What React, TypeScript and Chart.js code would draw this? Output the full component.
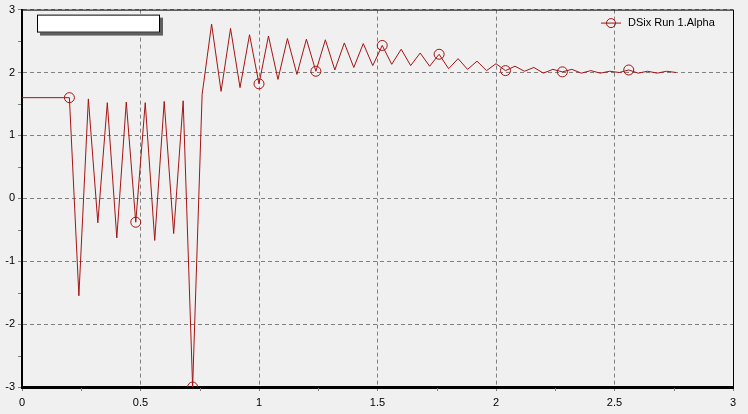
import React, { useEffect, useRef } from "react";
import { Chart, registerables } from "chart.js";

Chart.register(...registerables);

const seriesLabel = "DSix Run 1.Alpha";

const timeValues = [
  0, 0.2, 0.24, 0.28, 0.32, 0.36, 0.4, 0.44, 0.48, 0.52, 0.56, 0.6, 0.64, 0.68,
  0.72, 0.76, 0.8, 0.84, 0.88, 0.92, 0.96, 1.0, 1.04, 1.08, 1.12, 1.16, 1.2,
  1.24, 1.28, 1.32, 1.36, 1.4, 1.44, 1.48, 1.52, 1.56, 1.6, 1.64, 1.68, 1.72,
  1.76, 1.8, 1.84, 1.88, 1.92, 1.96, 2.0, 2.04, 2.08, 2.12, 2.16, 2.2, 2.24,
  2.28, 2.32, 2.36, 2.4, 2.44, 2.48, 2.52, 2.56, 2.6, 2.64, 2.68, 2.72, 2.76,
];

const alphaValues = [
  1.6, 1.6, -1.55, 1.58, -0.39, 1.52, -0.63, 1.53, -0.38, 1.52, -0.67, 1.54,
  -0.56, 1.55, -3.0, 1.65, 2.77, 1.7, 2.7, 1.76, 2.6, 1.82, 2.58, 1.89, 2.54,
  1.97, 2.53, 2.02, 2.52, 2.04, 2.47, 2.08, 2.46, 2.11, 2.43, 2.13, 2.37, 2.11,
  2.31, 2.1, 2.29, 2.06, 2.22, 2.05, 2.18, 2.03, 2.14, 2.03, 2.1, 2.02, 2.08,
  1.99, 2.05, 2.01, 2.05, 1.99, 2.03, 1.99, 2.02, 2.0, 2.04, 1.99, 2.02, 1.99,
  2.02, 2.0,
];

const markerTimes = [0.2, 0.48, 0.72, 1.0, 1.24, 1.52, 1.76, 2.04, 2.28, 2.56];

const xMinorTicks = [0.25, 0.75, 1.25, 1.75, 2.25, 2.75];
const yMinorTicks = [-2.5, -1.5, -0.5, 0.5, 1.5, 2.5];

const LINE_COLOR = "#a41414";
const FONT_FAMILY = "'Liberation Sans', Arial, sans-serif";

export default function App() {
  const canvasRef = useRef<HTMLCanvasElement | null>(null);

  useEffect(() => {
    document.body.style.margin = "0";
    document.body.style.background = "#f0f0f0";
    const canvas = canvasRef.current;
    if (!canvas) return;

    const points = timeValues.map((t, i) => ({ x: t, y: alphaValues[i] }));
    const radii = timeValues.map((t) =>
      markerTimes.some((m) => Math.abs(m - t) < 1e-6) ? 5 : 0
    );

    const decorations = {
      id: "decorations",
      beforeDraw(chart: any) {
        const { ctx } = chart;
        ctx.save();
        ctx.fillStyle = "#f0f0f0";
        ctx.fillRect(0, 0, chart.width, chart.height);
        ctx.restore();
      },
      afterDraw(chart: any) {
        const { ctx, chartArea } = chart;
        const xs = chart.scales.x;
        const ys = chart.scales.y;
        ctx.save();
        // top and right frame
        ctx.strokeStyle = "#000";
        ctx.lineWidth = 1;
        ctx.setLineDash([]);
        ctx.beginPath();
        ctx.moveTo(chartArea.left, chartArea.top + 0.5);
        ctx.lineTo(chartArea.right + 0.5, chartArea.top + 0.5);
        ctx.lineTo(chartArea.right + 0.5, chartArea.bottom);
        ctx.stroke();
        // minor ticks
        ctx.strokeStyle = "#808080";
        ctx.beginPath();
        xMinorTicks.forEach((v) => {
          const px = Math.round(xs.getPixelForValue(v)) + 0.5;
          ctx.moveTo(px, chartArea.bottom + 1);
          ctx.lineTo(px, chartArea.bottom + 4);
        });
        yMinorTicks.forEach((v) => {
          const py = Math.round(ys.getPixelForValue(v)) + 0.5;
          ctx.moveTo(chartArea.left - 1, py);
          ctx.lineTo(chartArea.left - 4, py);
        });
        ctx.stroke();
        // empty white title box with shadow
        const bx = chartArea.left + 15;
        const by = chartArea.top + 5;
        const bw = 123;
        const bh = 18;
        ctx.fillStyle = "#606060";
        ctx.fillRect(bx + 3, by + 3, bw, bh);
        ctx.fillStyle = "#ffffff";
        ctx.fillRect(bx, by, bw, bh);
        ctx.strokeStyle = "#000";
        ctx.strokeRect(bx + 0.5, by + 0.5, bw - 1, bh - 1);
        // legend
        const ds = chart.data.datasets[0];
        const ly = chartArea.top + 13.5;
        const lx = chartArea.right - 132;
        ctx.strokeStyle = ds.borderColor;
        ctx.beginPath();
        ctx.moveTo(lx, ly);
        ctx.lineTo(lx + 20, ly);
        ctx.stroke();
        ctx.beginPath();
        ctx.arc(lx + 10, ly, 4.5, 0, Math.PI * 2);
        ctx.stroke();
        ctx.fillStyle = "#000";
        ctx.font = "11px " + FONT_FAMILY;
        ctx.textBaseline = "middle";
        ctx.textAlign = "left";
        ctx.fillText(ds.label, lx + 27, ly);
        ctx.restore();
      },
    };

    const chart = new Chart(canvas, {
      type: "line",
      data: {
        datasets: [
          {
            label: seriesLabel,
            data: points,
            borderColor: LINE_COLOR,
            backgroundColor: "rgba(0,0,0,0)",
            borderWidth: 1,
            pointRadius: radii,
            pointBorderColor: LINE_COLOR,
            pointBackgroundColor: "rgba(0,0,0,0)",
            pointBorderWidth: 1,
            pointStyle: "circle",
            tension: 0,
            fill: false,
          },
        ],
      },
      options: {
        animation: false,
        responsive: false,
        maintainAspectRatio: false,
        layout: { padding: { top: 7, right: 15, left: 0, bottom: 0 } },
        plugins: {
          tooltip: { enabled: false },
          legend: { display: false },
        },
        scales: {
          x: {
            type: "linear",
            min: 0,
            max: 3,
            afterFit: (s: any) => {
              s.height = 27;
            },
            ticks: {
              stepSize: 0.5,
              color: "#000",
              padding: 5,
              maxRotation: 0,
              font: { size: 11, family: FONT_FAMILY },
              callback: (v: any) => String(Number(v)),
            },
            grid: {
              color: "#808080",
              tickColor: "#808080",
              tickLength: 4,
            },
            border: { color: "#000", width: 3, dash: [4, 3] } as any,
          },
          y: {
            type: "linear",
            min: -3,
            max: 3,
            afterFit: (s: any) => {
              s.width = 22;
            },
            ticks: {
              stepSize: 1,
              color: "#000",
              padding: 3,
              font: { size: 11, family: FONT_FAMILY },
              callback: (v: any) => String(Number(v)),
            },
            grid: {
              color: "#808080",
              tickColor: "#808080",
              tickLength: 4,
            },
            border: { color: "#000", width: 2, dash: [4, 3] } as any,
          },
        },
      },
      plugins: [decorations],
    } as any);

    return () => chart.destroy();
  }, []);

  return (
    <div style={{ width: 748, height: 414, background: "#f0f0f0" }}>
      <canvas ref={canvasRef} width={748} height={414} style={{ display: "block" }} />
    </div>
  );
}
